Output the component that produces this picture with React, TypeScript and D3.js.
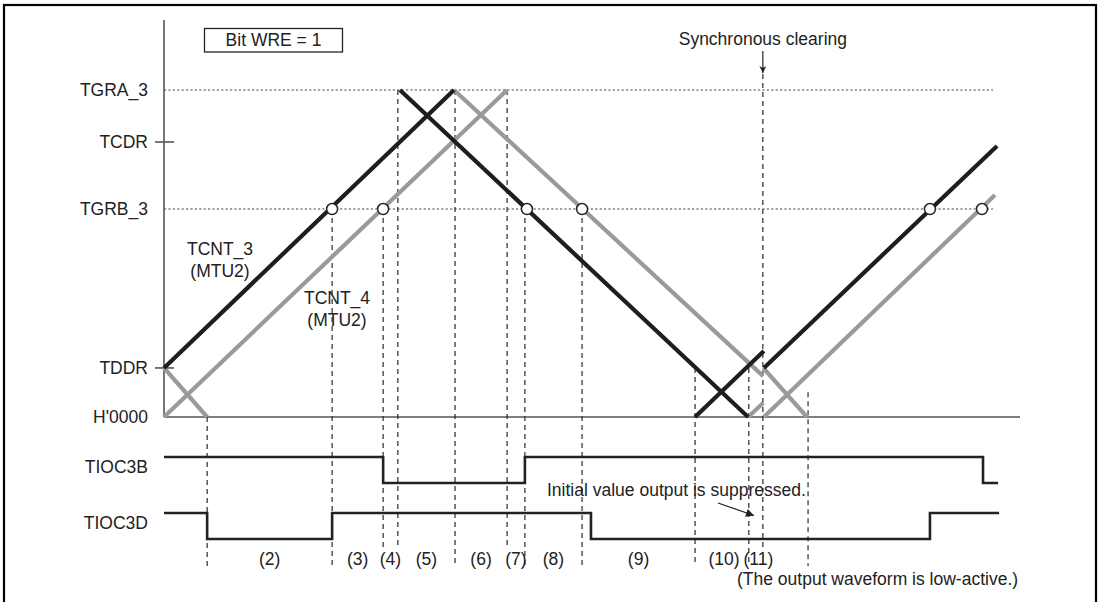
import React from "react";
import * as d3 from "d3";

// ---- data ----
const counterLevels = [
  { name: "TGRA_3", value: 100, kind: "dotted" },
  { name: "TCDR", value: 84.1, kind: "tick" },
  { name: "TGRB_3", value: 63.6, kind: "dotted" },
  { name: "TDDR", value: 15, kind: "tick" },
  { name: "H'0000", value: 0, kind: "base" },
];

// TCNT_3 (black) segments: [time, count]
const tcnt3Segments: [number, number][][] = [
  [[0, 15], [84.7, 100]],
  [[68.9, 100], [170.6, 0]],
  [[155.1, 0], [175.2, 20.2]],
  [[175.2, 15], [243.3, 82.9]],
];
// TCNT_4 (gray) segments
const tcnt4Segments: [number, number][][] = [
  [[0, 15], [12.6, 0]],
  [[0, 0], [100.2, 100]],
  [[84.7, 100], [175.0, 12.5]],
  [[175.0, 15], [187.8, 0]],
  [[170.6, 0], [175.0, 4.3]],
  [[175.2, 0], [242.7, 67.9]],
];

const compareMatchTimes = [49.1, 64.0, 106.0, 122.1, 223.7, 238.9];
const tgrbValue = 63.6;

const markerTimes = [12.6, 49.1, 64.0, 68.3, 85.0, 100.2, 105.4, 122.1, 155.1, 170.8, 174.9, 188.1];
const markerTops = [0, 63.6, 63.6, 100, 100, 100, 63.6, 63.6, 15, 15, 100, 7.6];
const markerLong = [true, true, false, false, true, false, true, true, true, true, false, true];

const intervalLabels = ["(2)", "(3)", "(4)", "(5)", "(6)", "(7)", "(8)", "(9)", "(10)", "(11)"];

const waveNames = ["TIOC3B", "TIOC3D"];
const tioc3bEdges = [0, 64.0, 105.4, 239.2, 243.6];
const tioc3bLevels = [1, 0, 1, 0];
const tioc3dEdges = [0, 12.6, 49.1, 124.7, 223.7, 243.9];
const tioc3dLevels = [1, 0, 1, 0, 1];

const syncClearTime = 174.9;
const dottedEndTime = 242.1;

const FONT = "'Liberation Sans', Arial, Helvetica, sans-serif";
const FS = 17.5;
const BLACK = "#1e1e1e";
const GRAY = "#9a9a9a";

export default function App() {
  const W = 1101, H = 602;
  const x = d3.scaleLinear().domain([0, 250]).range([164, 1020]);
  const y = d3.scaleLinear().domain([0, 100]).range([417, 90]);
  const row = d3.scalePoint<string>().domain(waveNames).range([457, 513]);
  const amp = 26;
  const line = d3.line<[number, number]>().x((d) => x(d[0])).y((d) => y(d[1]));

  const wavePath = (name: string, edges: number[], levels: number[]) => {
    const base = row(name)!;
    const pts: [number, number][] = [];
    levels.forEach((lv, i) => {
      const yy = lv ? base : base + amp;
      pts.push([x(edges[i]), yy]);
      pts.push([x(edges[i + 1]), yy]);
    });
    return d3.line()(pts) || "";
  };

  const longBottom = 566;
  const shortBottom = 548;

  return (
    <svg width={W} height={H} style={{ position: "absolute", left: 0, top: 0, background: "#fff" }}
      fontFamily={FONT} fontSize={FS}>
      <defs>
        <marker id="arrowSmall" viewBox="0 0 10 10" refX="10" refY="5" markerWidth="9" markerHeight="7" orient="auto" markerUnits="userSpaceOnUse">
          <path d="M0,0 L10,5 L0,10 L3,5 Z" fill="#222" />
        </marker>
        <marker id="arrowHead" viewBox="0 0 10 10" refX="10" refY="5" markerWidth="10" markerHeight="8" orient="auto" markerUnits="userSpaceOnUse">
          <path d="M0,0 L10,5 L0,10 Z" fill="#222" />
        </marker>
      </defs>
      <rect x={4} y={5} width={1092} height={640} fill="none" stroke="#000" strokeWidth={2.2} />

      {/* WRE box */}
      <rect x={204.5} y={28.5} width={138} height={23.5} fill="none" stroke="#222" strokeWidth={1.3} />
      <text x={273.5} y={46} textAnchor="middle" fill="#222">Bit WRE = 1</text>

      {/* sync clearing */}
      <text x={x(syncClearTime)} y={44.5} textAnchor="middle" fill="#222">Synchronous clearing</text>
      <line x1={x(syncClearTime)} x2={x(syncClearTime)} y1={51} y2={73} stroke="#222" strokeWidth={1.2} markerEnd="url(#arrowSmall)" />

      {/* dotted reference lines */}
      {counterLevels.filter((l) => l.kind === "dotted").map((l) => (
        <line key={l.name} x1={x(0)} x2={x(dottedEndTime)} y1={y(l.value)} y2={y(l.value)}
          stroke="#444" strokeWidth={1.1} strokeDasharray="2.2,2.2" />
      ))}

      {/* axes */}
      <line x1={x(0)} x2={x(0)} y1={20} y2={y(0)} stroke="#555" strokeWidth={1.6} />
      <line x1={x(0)} x2={x(250)} y1={y(0)} y2={y(0)} stroke="#555" strokeWidth={1.6} />
      {counterLevels.filter((l) => l.kind === "tick").map((l) => (
        <line key={l.name} x1={155} x2={174} y1={y(l.value)} y2={y(l.value)} stroke="#555" strokeWidth={1.6} />
      ))}
      {counterLevels.map((l) => (
        <text key={l.name} x={148} y={y(l.value) + 6.3} textAnchor="end" fill="#222">{l.name}</text>
      ))}

      {/* vertical dashed markers */}
      {markerTimes.map((t, i) => (
        <line key={i} x1={x(t)} x2={x(t)}
          y1={i === 10 ? 74 : y(markerTops[i])}
          y2={markerLong[i] ? longBottom : shortBottom}
          stroke="#2a2a2a" strokeWidth={1.2} strokeDasharray="5,4" />
      ))}

      {/* counter lines */}
      {tcnt4Segments.map((s, i) => (
        <path key={"g" + i} d={line(s) || ""} stroke={GRAY} strokeWidth={4.2} fill="none" />
      ))}
      {tcnt3Segments.map((s, i) => (
        <path key={"b" + i} d={line(s) || ""} stroke={BLACK} strokeWidth={4.2} fill="none" />
      ))}

      {/* compare match circles */}
      {compareMatchTimes.map((t, i) => (
        <circle key={i} cx={x(t)} cy={y(tgrbValue)} r={5.5} fill="#fff" stroke="#222" strokeWidth={1.5} />
      ))}

      {/* counter labels */}
      <text x={220} y={255} textAnchor="middle" fill="#222">TCNT_3</text>
      <text x={220} y={277} textAnchor="middle" fill="#222">(MTU2)</text>
      <text x={337} y={304} textAnchor="middle" fill="#222">TCNT_4</text>
      <text x={337} y={326} textAnchor="middle" fill="#222">(MTU2)</text>

      {/* waveforms */}
      <path d={wavePath("TIOC3B", tioc3bEdges, tioc3bLevels)} stroke="#222" strokeWidth={2.6} fill="none" />
      <path d={wavePath("TIOC3D", tioc3dEdges, tioc3dLevels)} stroke="#222" strokeWidth={2.6} fill="none" />
      {waveNames.map((n) => (
        <text key={n} x={148} y={row(n)! + 16} textAnchor="end" fill="#222">{n}</text>
      ))}

      {/* interval labels */}
      {intervalLabels.map((lab, i) => (
        <text key={lab} x={(x(markerTimes[i]) + x(markerTimes[i + 1])) / 2 + (i === 8 ? 2 : i === 9 ? 2.5 : 0)} y={565} textAnchor="middle" fill="#222">{lab}</text>
      ))}

      {/* annotations */}
      <text x={547} y={496} fill="#222">Initial value output is suppressed.</text>
      <line x1={718} y1={503} x2={754} y2={515.5} stroke="#222" strokeWidth={1.2} markerEnd="url(#arrowHead)" />
      <text x={737} y={584.5} fill="#222">(The output waveform is low-active.)</text>
    </svg>
  );
}
